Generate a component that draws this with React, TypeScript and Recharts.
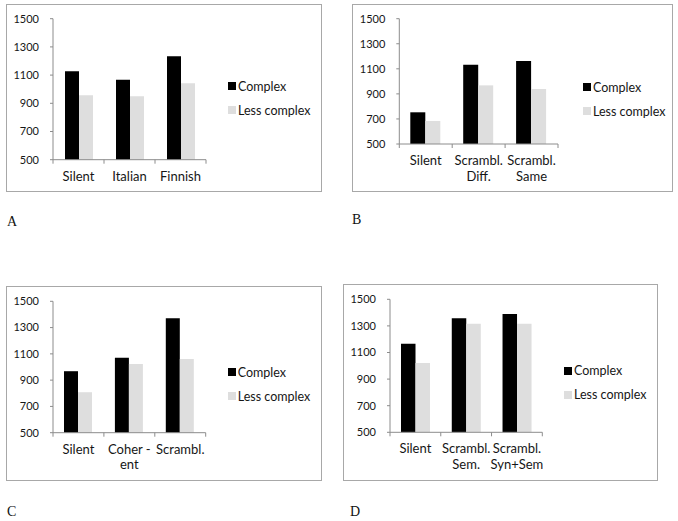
import { BarChart, Bar, XAxis, YAxis, Legend } from "recharts";

const yTicks = [500, 700, 900, 1100, 1300, 1500];

const catsA = ["Silent", "Italian", "Finnish"];
const complexA = [1127, 1067, 1233];
const lessA = [957, 950, 1042];

const catsB = ["Silent", "Scrambl.\nDiff.", "Scrambl.\nSame"];
const complexB = [753, 1133, 1162];
const lessB = [684, 968, 939];

const catsC = ["Silent", "Coher -\nent", "Scrambl."];
const complexC = [968, 1071, 1371];
const lessC = [808, 1023, 1061];

const catsD = ["Silent", "Scrambl.\nSem.", "Scrambl.\nSyn+Sem"];
const complexD = [1166, 1357, 1389];
const lessD = [1021, 1317, 1317];

const FONT = "Lato, 'Liberation Sans', sans-serif";
const AXIS = "#8c8c8c";
const TEXT = "#161616";

function CatTick(props: any) {
  const { x, y, payload, index, last, band } = props;
  const half = payload?.offset ?? band / 2;
  const lines = String(payload.value).split("\n");
  return (
    <g>
      <line x1={x - half} x2={x - half} y1={y} y2={y + 4} stroke={AXIS} />
      {index === last && <line x1={x + half} x2={x + half} y1={y} y2={y + 4} stroke={AXIS} />}
      <text x={x} y={y + 21} textAnchor="middle" fontFamily={FONT} fontSize={13} fill={TEXT}>
        {lines.map((l, i) => (
          <tspan key={i} x={x} dy={i === 0 ? 0 : 15.7}>
            {l}
          </tspan>
        ))}
      </text>
    </g>
  );
}

const renderLegend = (props: any) => (
  <div style={{ fontFamily: FONT, fontSize: 12.5, color: TEXT }}>
    {(props.payload || []).map((e: any) => (
      <div key={e.value} style={{ display: "flex", alignItems: "center", height: 24, whiteSpace: "nowrap" }}>
        <span style={{ display: "inline-block", width: 8, height: 8, background: e.color, marginRight: 2 }} />
        <span>{e.value}</span>
      </div>
    ))}
  </div>
);

interface PanelProps {
  letter: string;
  cats: string[];
  complex: number[];
  less: number[];
  box: { left: number; top: number; w: number; h: number };
  plot: { left: number; right: number; top: number; bottom: number };
  barSize: number;
  legend: { x: number; y: number };
  letterPos: { x: number; y: number };
}

function Panel({ letter, cats, complex, less, box, plot, barSize, legend, letterPos }: PanelProps) {
  const data = cats.map((name, i) => ({ name, complex: complex[i], less: less[i] }));
  const band = (plot.right - plot.left) / cats.length;
  return (
    <>
      <div
        style={{
          position: "absolute",
          left: box.left,
          top: box.top,
          width: box.w,
          height: box.h,
          border: "1px solid #a8a8a8",
          boxSizing: "border-box",
        }}
      >
        <div style={{ position: "absolute", left: -1, top: -1 }}>
          <BarChart
            width={box.w}
            height={box.h}
            data={data}
            barGap={0}
            barSize={barSize}
            margin={{ top: plot.top, left: 0, right: box.w - plot.right, bottom: box.h - plot.bottom - 30 }}
          >
            <XAxis
              dataKey="name"
              height={30}
              interval={0}
              tickLine={false}
              tickSize={0}
              tickMargin={0}
              axisLine={{ stroke: AXIS }}
              tick={<CatTick last={cats.length - 1} band={band} />}
            />
            <YAxis
              width={plot.left}
              domain={[500, 1500]}
              ticks={yTicks}
              interval={0}
              tickSize={3}
              tickMargin={11}
              axisLine={{ stroke: AXIS }}
              tickLine={{ stroke: AXIS }}
              tick={{ fontFamily: FONT, fontSize: 11, fill: TEXT }}
            />
            <Legend
              layout="vertical"
              align="center"
              verticalAlign="middle"
              content={renderLegend}
              wrapperStyle={{ left: legend.x, top: legend.y - 12, width: "auto", height: "auto" }}
            />
            <Bar dataKey="complex" name="Complex" fill="#000000" isAnimationActive={false} />
            <Bar dataKey="less" name="Less complex" fill="#dedede" isAnimationActive={false} />
          </BarChart>
        </div>
      </div>
      <div
        style={{
          position: "absolute",
          left: letterPos.x,
          top: letterPos.y,
          fontFamily: "'Liberation Serif', serif",
          fontSize: 14,
          lineHeight: "14px",
          color: "#111",
        }}
      >
        {letter}
      </div>
    </>
  );
}

export default function App() {
  return (
    <div style={{ position: "absolute", left: 0, top: 0, width: 678, height: 521, background: "#fff" }}>
      <Panel
        letter="A"
        cats={catsA}
        complex={complexA}
        less={lessA}
        box={{ left: 6, top: 4, w: 316, h: 188 }}
        plot={{ left: 47, right: 200, top: 14.7, bottom: 155.7 }}
        barSize={14}
        legend={{ x: 222, y: 82 }}
        letterPos={{ x: 7, y: 215 }}
      />
      <Panel
        letter="B"
        cats={catsB}
        complex={complexB}
        less={lessB}
        box={{ left: 352, top: 4, w: 321, h: 188 }}
        plot={{ left: 47.3, right: 206, top: 14.7, bottom: 140 }}
        barSize={15}
        legend={{ x: 231, y: 83 }}
        letterPos={{ x: 352, y: 213 }}
      />
      <Panel
        letter="C"
        cats={catsC}
        complex={complexC}
        less={lessC}
        box={{ left: 6, top: 286, w: 316, h: 195 }}
        plot={{ left: 47, right: 199.7, top: 15.3, bottom: 146.7 }}
        barSize={14}
        legend={{ x: 221.7, y: 86 }}
        letterPos={{ x: 7, y: 505 }}
      />
      <Panel
        letter="D"
        cats={catsD}
        complex={complexD}
        less={lessD}
        box={{ left: 343, top: 284, w: 315, h: 197 }}
        plot={{ left: 47, right: 199.3, top: 15.3, bottom: 148.3 }}
        barSize={14.5}
        legend={{ x: 221, y: 86.7 }}
        letterPos={{ x: 350, y: 505 }}
      />
    </div>
  );
}
